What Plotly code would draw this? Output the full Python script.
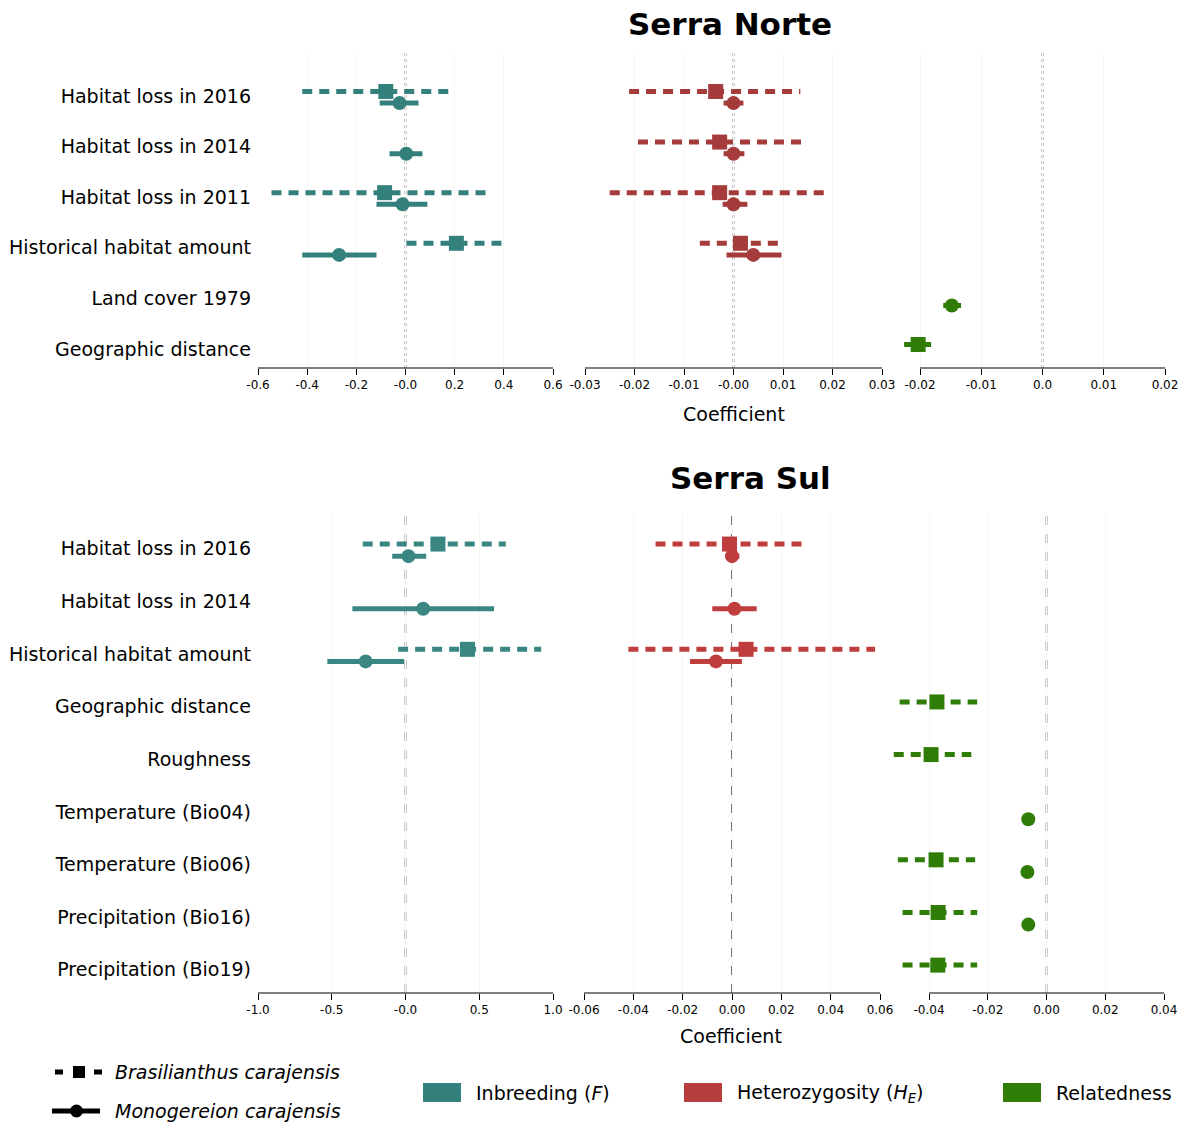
import plotly.graph_objects as go

W, H = 1186, 1124

# ---------------- data ----------------
norte_rows = ["Habitat loss in 2016", "Habitat loss in 2014", "Habitat loss in 2011",
              "Historical habitat amount", "Land cover 1979", "Geographic distance"]
sul_rows = ["Habitat loss in 2016", "Habitat loss in 2014", "Historical habitat amount",
            "Geographic distance", "Roughness", "Temperature (Bio04)",
            "Temperature (Bio06)", "Precipitation (Bio16)", "Precipitation (Bio19)"]

# (variable, estimate, lower, upper)
norte_F_bras = [("Habitat loss in 2016", -0.080, -0.42, 0.20),
                ("Habitat loss in 2011", -0.085, -0.545, 0.335),
                ("Historical habitat amount", 0.207, 0.004, 0.40)]
norte_F_mono = [("Habitat loss in 2016", -0.024, -0.105, 0.053),
                ("Habitat loss in 2014", 0.003, -0.065, 0.069),
                ("Habitat loss in 2011", -0.012, -0.118, 0.089),
                ("Historical habitat amount", -0.27, -0.42, -0.118)]
norte_HE_bras = [("Habitat loss in 2016", -0.0036, -0.0211, 0.0135),
                 ("Habitat loss in 2014", -0.0028, -0.0193, 0.0147),
                 ("Habitat loss in 2011", -0.0028, -0.0250, 0.0190),
                 ("Historical habitat amount", 0.0014, -0.0068, 0.0099)]
norte_HE_mono = [("Habitat loss in 2016", 0.0000, -0.0020, 0.0020),
                 ("Habitat loss in 2014", 0.0000, -0.0020, 0.0022),
                 ("Habitat loss in 2011", 0.0000, -0.0022, 0.0028),
                 ("Historical habitat amount", 0.0040, -0.0014, 0.0097)]
norte_R_bras = [("Geographic distance", -0.0203, -0.0226, -0.0174)]
norte_R_mono = [("Land cover 1979", -0.0148, -0.0162, -0.0133)]

sul_F_bras = [("Habitat loss in 2016", 0.22, -0.29, 0.68),
              ("Historical habitat amount", 0.42, -0.05, 0.92)]
sul_F_mono = [("Habitat loss in 2016", 0.02, -0.09, 0.14),
              ("Habitat loss in 2014", 0.12, -0.36, 0.60),
              ("Historical habitat amount", -0.27, -0.53, -0.01)]
sul_HE_bras = [("Habitat loss in 2016", -0.001, -0.031, 0.031),
               ("Historical habitat amount", 0.0057, -0.042, 0.058)]
sul_HE_mono = [("Habitat loss in 2016", 0.000, -0.002, 0.003),
               ("Habitat loss in 2014", 0.001, -0.008, 0.010),
               ("Historical habitat amount", -0.0065, -0.017, 0.004)]
sul_R_bras = [("Geographic distance", -0.0373, -0.0500, -0.0236),
              ("Roughness", -0.0393, -0.0520, -0.0256),
              ("Temperature (Bio06)", -0.0376, -0.0506, -0.0243),
              ("Precipitation (Bio16)", -0.0369, -0.0490, -0.0236),
              ("Precipitation (Bio19)", -0.0370, -0.0490, -0.0236)]
sul_R_mono = [("Temperature (Bio04)", -0.0062, -0.0064, -0.0060),
              ("Temperature (Bio06)", -0.0065, -0.0067, -0.0063),
              ("Precipitation (Bio16)", -0.0062, -0.0064, -0.0060)]

# axis ticks
norte_ticks = [[-0.6, -0.4, -0.2, 0.0, 0.2, 0.4, 0.6],
               [-0.03, -0.02, -0.01, 0.0, 0.01, 0.02, 0.03],
               [-0.02, -0.01, 0.0, 0.01, 0.02]]
norte_ticktext = [["-0.6", "-0.4", "-0.2", "-0.0", "0.2", "0.4", "0.6"],
                  ["-0.03", "-0.02", "-0.01", "-0.00", "0.01", "0.02", "0.03"],
                  ["-0.02", "-0.01", "0.0", "0.01", "0.02"]]
sul_ticks = [[-1.0, -0.5, 0.0, 0.5, 1.0],
             [-0.06, -0.04, -0.02, 0.0, 0.02, 0.04, 0.06],
             [-0.04, -0.02, 0.0, 0.02, 0.04]]
sul_ticktext = [["-1.0", "-0.5", "-0.0", "0.5", "1.0"],
                ["-0.06", "-0.04", "-0.02", "0.00", "0.02", "0.04", "0.06"],
                ["-0.04", "-0.02", "0.00", "0.02", "0.04"]]

# ---------------- style ----------------
COL = {"F": "#33807d", "HE": "#b83e3e", "R": "#2f7d06"}
COL_NORTE = {"F": "#33807d", "HE": "#a53b3b", "R": "#2f7d06"}
COL_SUL = {"F": "#3a8682", "HE": "#bf3d3d", "R": "#2f7d06"}
FONT = "DejaVu Sans"
SQ_OFF, CI_OFF = -0.09, 0.14


def px(x):
    return x / W


def py(y):
    return 1 - y / H


fig = go.Figure()

# pixel extent of the drawn axis line (first..last tick) and extra room on the left
panels = [
    dict(rows=norte_rows, data=[(norte_F_bras, norte_F_mono, "F"),
                                (norte_HE_bras, norte_HE_mono, "HE"),
                                (norte_R_bras, norte_R_mono, "R")],
         ticks=norte_ticks, ticktext=norte_ticktext, colors=COL_NORTE,
         ydom=[py(368), py(52)], yrange=[5.375, -0.87],
         xdoms=[[258, 553], [585, 882], [920, 1165]], extra=[0, 0, 22], zdash="dot"),
    dict(rows=sul_rows, data=[(sul_F_bras, sul_F_mono, "F"),
                              (sul_HE_bras, sul_HE_mono, "HE"),
                              (sul_R_bras, sul_R_mono, "R")],
         ticks=sul_ticks, ticktext=sul_ticktext, colors=COL_SUL,
         ydom=[py(993), py(513)], yrange=[8.44, -0.68],
         xdoms=[[258, 553], [584, 880], [929, 1164]], extra=[0, 0, 44], zdash="dash"),
]

shapes = []
ax = 0
for p in panels:
    for j, (bras, mono, key) in enumerate(p["data"]):
        ax += 1
        xa = "x" if ax == 1 else f"x{ax}"
        ya = "y" if ax == 1 else f"y{ax}"
        c = p["colors"][key]
        for series, off, dash, sym, msize in [(bras, SQ_OFF, "10px,7px", "square", 15),
                                              (mono, CI_OFF, "solid", "circle", 14)]:
            lx, ly, mx, my = [], [], [], []
            for name, est, lo, hi in series:
                yv = p["rows"].index(name) + off
                lx += [lo, hi, None]
                ly += [yv, yv, None]
                mx.append(est)
                my.append(yv)
            fig.add_trace(go.Scatter(x=lx, y=ly, mode="lines", xaxis=xa, yaxis=ya,
                                     line=dict(color=c, width=5, dash=dash),
                                     showlegend=False, hoverinfo="skip"))
            fig.add_trace(go.Scatter(x=mx, y=my, mode="markers", xaxis=xa, yaxis=ya,
                                     marker=dict(color=c, size=msize, symbol=sym,
                                                 line=dict(width=0)),
                                     showlegend=False))
        t0, t1 = p["ticks"][j][0], p["ticks"][j][-1]
        p0, p1 = p["xdoms"][j]
        ex = p["extra"][j]
        scale = (t1 - t0) / (p1 - p0)
        rng = [t0 - ex * scale, t1]
        fig.layout[f"xaxis{'' if ax == 1 else ax}"] = dict(
            domain=[px(p0 - ex), px(p1)], anchor=ya, automargin=False,
            range=rng, tickvals=p["ticks"][j], ticktext=p["ticktext"][j],
            showline=False, ticks="outside",
            ticklen=6, tickcolor="black", tickwidth=1.2,
            showgrid=True, gridcolor="#f6f6f6", zeroline=False,
            tickfont=dict(family=FONT, size=12, color="black"))
        yd = dict(domain=p["ydom"], anchor=xa, range=p["yrange"], showline=False,
                  showgrid=False, zeroline=False, automargin=False)
        if j == 0:
            yd.update(tickvals=list(range(len(p["rows"]))), ticktext=p["rows"],
                      ticks="", ticklabelstandoff=6,
                      tickfont=dict(family=FONT, size=19, color="black"))
        else:
            yd.update(showticklabels=False, ticks="")
        fig.layout[f"yaxis{'' if ax == 1 else ax}"] = yd
        # bounded axis spine (first tick to last tick)
        shapes.append(dict(type="line", xref=xa, yref=f"{ya} domain", x0=t0, x1=t1, y0=0, y1=0,
                           line=dict(color="black", width=1.2)))
        shapes.append(dict(type="line", xref=xa, yref=f"{ya} domain", x0=0, x1=0, y0=0, y1=1,
                           line=dict(color="#555555", width=1.6, dash=p["zdash"]),
                           layer="below"))

# ---------------- legend (drawn in paper coords) ----------------
annotations = []


def text(x, y, s, size=19, anchor="left"):
    annotations.append(dict(x=px(x), y=py(y), xref="paper", yref="paper", text=s,
                            showarrow=False, xanchor=anchor, yanchor="middle",
                            font=dict(family=FONT, size=size, color="black")))


text(730, 24, "<b>Serra Norte</b>", size=31, anchor="center")
text(750, 478, "<b>Serra Sul</b>", size=31, anchor="center")
text(734, 414, "Coefficient", size=19, anchor="center")
text(731, 1036, "Coefficient", size=19, anchor="center")

# species legend glyphs
for a, b in [(55, 63), (94, 102)]:
    shapes.append(dict(type="line", xref="paper", yref="paper", x0=px(a), x1=px(b),
                       y0=py(1072), y1=py(1072), line=dict(color="black", width=5)))
shapes.append(dict(type="rect", xref="paper", yref="paper", x0=px(73), x1=px(85),
                   y0=py(1078), y1=py(1066), fillcolor="black", line=dict(width=0)))
shapes.append(dict(type="line", xref="paper", yref="paper", x0=px(52), x1=px(100),
                   y0=py(1111), y1=py(1111), line=dict(color="black", width=5)))
shapes.append(dict(type="circle", xref="paper", yref="paper", x0=px(70), x1=px(83),
                   y0=py(1117.5), y1=py(1104.5), fillcolor="black", line=dict(width=0)))
text(113, 1072, "<i>Brasilianthus carajensis</i>")
text(113, 1111, "<i>Monogereion carajensis</i>")

for x0, key, label in [(423, "F", "Inbreeding (<i>F</i>)"),
                       (684, "HE", "Heterozygosity (<i>H</i><sub><i>E</i></sub>)"),
                       (1003, "R", "Relatedness")]:
    shapes.append(dict(type="rect", xref="paper", yref="paper", x0=px(x0), x1=px(x0 + 38),
                       y0=py(1102), y1=py(1083), fillcolor=COL[key], line=dict(width=0)))
    text(x0 + 51, 1093, label)

fig.update_layout(width=W, height=H, margin=dict(l=0, r=0, t=0, b=0),
                  paper_bgcolor="white", plot_bgcolor="rgba(0,0,0,0)",
                  shapes=shapes, annotations=annotations, showlegend=False,
                  font=dict(family=FONT))

fig.write_html("out.html", config={"displayModeBar": False},
               post_script="document.body.style.margin='0';document.body.style.overflow='hidden';")
